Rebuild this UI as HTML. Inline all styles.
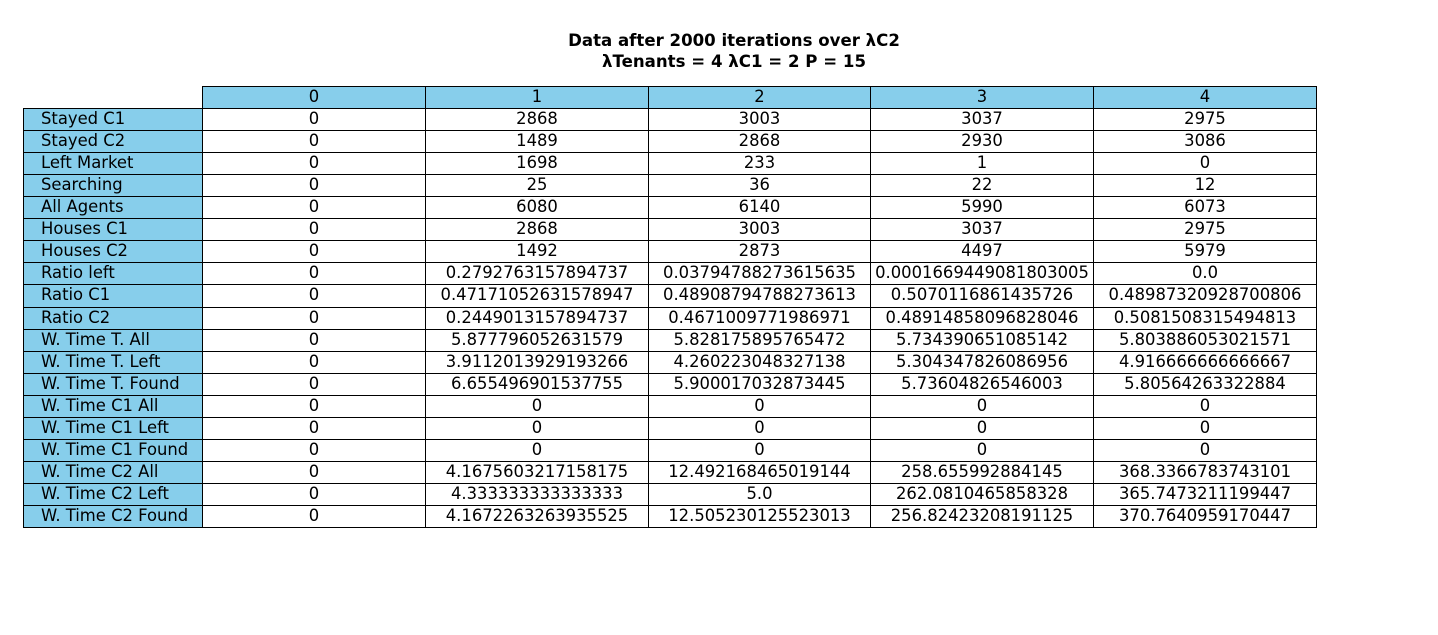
<!DOCTYPE html>
<html><head><meta charset="utf-8">
<style>
body{margin:0;width:1438px;height:635px;background:#fff;position:relative;overflow:hidden;font-family:"DejaVu Sans","Liberation Sans",sans-serif;}
.t{position:absolute;left:0;width:1468px;text-align:center;font-weight:bold;font-size:16.6px;color:#000;}
.c{position:absolute;box-sizing:border-box;border:1.3px solid #000;font-size:16.4px;line-height:20px;text-align:center;white-space:nowrap;color:#000;}
.h{background:#87CEEB;}
.l{text-align:left;padding-left:17px;}
</style></head><body>
<div class="t" style="top:31px">Data after 2000 iterations over λC2</div>
<div class="t" style="top:52px">λTenants = 4 λC1 = 2 P = 15</div>
<div id="tbl"></div>
<script>
const colLabels=["0","1","2","3","4"];
const rowLabels=["Stayed C1","Stayed C2","Left Market","Searching","All Agents","Houses C1","Houses C2","Ratio left","Ratio C1","Ratio C2","W. Time T. All","W. Time T. Left","W. Time T. Found","W. Time C1 All","W. Time C1 Left","W. Time C1 Found","W. Time C2 All","W. Time C2 Left","W. Time C2 Found"];
const col0=["0","0","0","0","0","0","0","0","0","0","0","0","0","0","0","0","0","0","0"];
const col1=["2868","1489","1698","25","6080","2868","1492","0.2792763157894737","0.47171052631578947","0.2449013157894737","5.877796052631579","3.9112013929193266","6.655496901537755","0","0","0","4.1675603217158175","4.333333333333333","4.1672263263935525"];
const col2=["3003","2868","233","36","6140","3003","2873","0.03794788273615635","0.48908794788273613","0.4671009771986971","5.828175895765472","4.260223048327138","5.900017032873445","0","0","0","12.492168465019144","5.0","12.505230125523013"];
const col3=["3037","2930","1","22","5990","3037","4497","0.0001669449081803005","0.5070116861435726","0.48914858096828046","5.734390651085142","5.304347826086956","5.73604826546003","0","0","0","258.655992884145","262.0810465858328","256.82423208191125"];
const col4=["2975","3086","0","12","6073","2975","5979","0.0","0.48987320928700806","0.5081508315494813","5.803886053021571","4.916666666666667","5.80564263322884","0","0","0","368.3366783743101","365.7473211199447","370.7640959170447"];
const cols=[col0,col1,col2,col3,col4];
const tbl=document.getElementById('tbl');
const X0=23,XL=202,CW=(1316-202)/5,Y0=86,RH=(527-86)/20;
function cell(x1,y1,x2,y2,txt,cls){x1=Math.round(x1);y1=Math.round(y1);x2=Math.round(x2);y2=Math.round(y2);
const d=document.createElement('div');d.className='c '+cls;d.style.left=x1+'px';d.style.top=y1+'px';d.style.width=(x2-x1+1)+'px';d.style.height=(y2-y1+1)+'px';d.textContent=txt;tbl.appendChild(d);return d;}
colLabels.forEach((t,i)=>{const d=cell(XL+i*CW,Y0,XL+(i+1)*CW,Y0+RH,t,'h');

});
rowLabels.forEach((r,j)=>{const y=Y0+(j+1)*RH;
const d=cell(X0,y,XL,y+RH,r,'h l');


cols.forEach((c,i)=>{const e=cell(XL+i*CW,y,XL+(i+1)*CW,y+RH,c[j],'');

});});
</script>
</body></html>
